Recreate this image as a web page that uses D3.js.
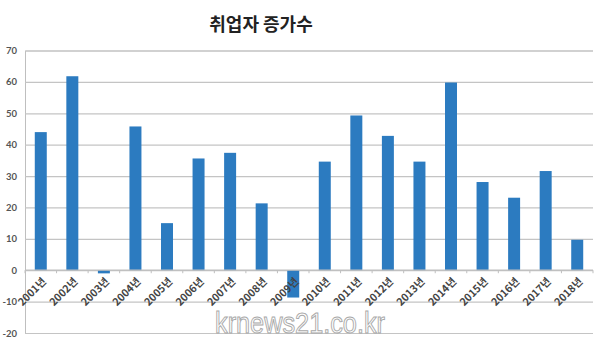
<!DOCTYPE html>
<html>
<head>
<meta charset="utf-8">
<script src="https://cdn.jsdelivr.net/npm/d3@7"></script>
<style>
  body { margin: 0; background: #fff; }
  svg { display: block; font-family: "Noto Sans CJK KR", "Noto Sans", sans-serif; }
</style>
</head>
<body>
<svg id="chart" width="599" height="341"></svg>
<script>
// data
const years = ["2001년","2002년","2003년","2004년","2005년","2006년","2007년","2008년","2009년",
               "2010년","2011년","2012년","2013년","2014년","2015년","2016년","2017년","2018년"];
const gains = [44, 61.8, -1, 45.8, 15, 35.6, 37.4, 21.3, -8.7, 34.6, 49.3, 42.8, 34.6, 59.8, 28.1, 23.1, 31.6, 9.7];
const yTicks = [-20, -10, 0, 10, 20, 30, 40, 50, 60, 70];

const svg = d3.select("#chart"),
      margin = { top: 50.5, right: 6, bottom: 8, left: 25 },
      width = +svg.attr("width"),
      height = +svg.attr("height");

const x = d3.scaleBand()
    .domain(years)
    .range([margin.left, width - margin.right])
    .paddingInner(0.62)
    .paddingOuter(0.31);

const y = d3.scaleLinear()
    .domain([-20, 70])
    .range([height - margin.bottom, margin.top]);

// title
svg.append("text")
    .attr("x", 261)
    .attr("y", 31)
    .attr("text-anchor", "middle")
    .attr("font-size", 18)
    .attr("font-weight", "bold")
    .attr("fill", "#222")
    .text("취업자 증가수");

// gridlines + y labels
const yAxis = svg.append("g")
    .attr("transform", `translate(${margin.left},0)`)
    .call(d3.axisLeft(y)
        .tickValues(yTicks)
        .tickFormat(d => String(d))
        .tickSize(-(width - margin.left - margin.right))
        .tickPadding(8));
yAxis.select(".domain").attr("stroke", "#bfbfbf");
yAxis.selectAll(".tick line").attr("stroke", "#c4c4c4").attr("stroke-width", 1.2);
yAxis.selectAll(".tick text")
    .attr("font-size", 9.5)
    .attr("font-weight", "bold")
    .attr("fill", "#555")
    .attr("font-family", "Lato, sans-serif");

// bars
svg.selectAll(".bar")
    .data(years.map((yr, i) => ({ yr, v: gains[i] })))
    .enter()
    .append("rect")
    .attr("class", "bar")
    .attr("x", d => x(d.yr))
    .attr("width", x.bandwidth())
    .attr("y", d => y(Math.max(0, d.v)))
    .attr("height", d => Math.abs(y(d.v) - y(0)))
    .attr("fill", "#2c7bc0");

// category axis on the zero line
const step = x.step();
const xAxis = svg.append("g")
    .attr("transform", `translate(0,${y(0)})`);
xAxis.append("line")
    .attr("x1", margin.left).attr("x2", width - margin.right)
    .attr("stroke", "#bfbfbf").attr("stroke-width", 1.2);
xAxis.selectAll(".tk")
    .data(d3.range(years.length + 1))
    .enter()
    .append("line")
    .attr("x1", i => margin.left + i * step)
    .attr("x2", i => margin.left + i * step)
    .attr("y1", 0).attr("y2", 3)
    .attr("stroke", "#bfbfbf");
xAxis.selectAll(".lbl")
    .data(years)
    .enter()
    .append("text")
    .attr("transform", d => `translate(${x(d) + x.bandwidth() / 2 + 6},${12}) rotate(-45)`)
    .attr("text-anchor", "end")
    .attr("font-size", 10.5)
    .attr("font-weight", "bold")
    .attr("fill", "#444")
    .text(d => d);

// watermark
svg.append("text")
    .attr("x", 300)
    .attr("y", 333)
    .attr("text-anchor", "middle")
    .attr("font-size", 29)
    .attr("font-family", "Liberation Sans, sans-serif")
    .attr("textLength", 170)
    .attr("lengthAdjust", "spacingAndGlyphs")
    .attr("fill", "#fff")
    .attr("stroke", "#a8a8a8")
    .attr("stroke-width", 1)
    .text("krnews21.co.kr");
</script>
</body>
</html>
